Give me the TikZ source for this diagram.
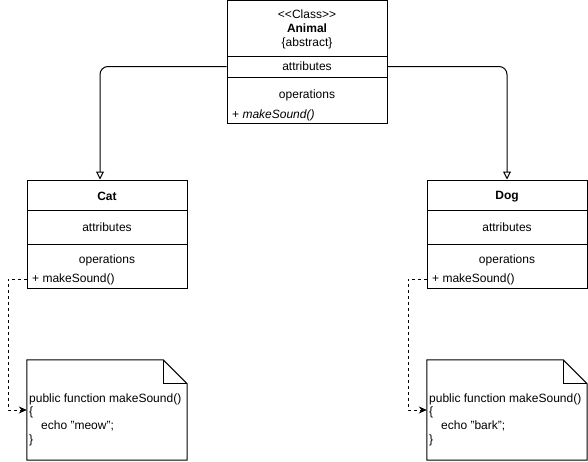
\documentclass[tikz,border=0pt]{standalone}
\usepackage{fontspec}
\setmainfont{Liberation Sans}
\usetikzlibrary{arrows.meta,positioning}
\newcommand{\umlfont}{\fontsize{12}{14}\selectfont}

\tikzset{
  compart/.style={draw,line width=1pt,minimum width=160pt,inner sep=0pt,align=center},
  optext/.style={anchor=west,inner xsep=5pt,inner ysep=2pt},
  notebox/.style={minimum width=160pt,minimum height=100pt,inner sep=0pt},
  inherit/.style={line width=1pt,rounded corners=8pt,-{Triangle[open,length=8pt,width=8pt]}},
  realize/.style={line width=1pt,dash pattern=on 3pt off 3pt,-{Stealth[length=8pt,width=7pt]}}
}

\begin{document}
\begin{tikzpicture}[x=1pt,y=-1pt,font=\umlfont]
  \useasboundingbox (0,0) rectangle (588,461);
  % abstract parent class
  \node[compart,minimum height=56pt] (animalhead) at (307,28) {};
  \node[align=center] (animalname) at (307,29.5)
        {<\kern0pt<Class>\kern0pt>\\\textbf{Animal}\\\{abstract\}};
  \node[compart,minimum height=21pt] (animalattr) at (307,66.5) {attributes};
  \node[compart,minimum height=46pt] (animalops) at (307,100) {};
  \node (animalopslbl) at (307,95.5) {operations};
  \node[optext] (animalop) at (227,115) {+ \textit{makeSound()}};
  % Cat
  \node[compart,minimum height=30pt] (cathead) at (107,195) {};
  \node (catname) at (107,196.5) {\textbf{Cat}};
  \node[compart,minimum height=34pt] (catattr) at (107,227) {attributes};
  \node[compart,minimum height=44pt] (catops) at (107,266) {};
  \node (catopslbl) at (107,260.5) {operations};
  \node[optext] (catop) at (27,279) {+ makeSound()};
  % Dog
  \node[compart,minimum height=30pt] (doghead) at (507,195) {};
  \node (dogname) at (507,196.5) {\textbf{Dog}};
  \node[compart,minimum height=34pt] (dogattr) at (507,227) {attributes};
  \node[compart,minimum height=44pt] (dogops) at (507,266) {};
  \node (dogopslbl) at (507,260.5) {operations};
  \node[optext] (dogop) at (427,279) {+ makeSound()};
  % implementation notes
  \node[notebox] (catnote) at (107,410) {};
  \node[notebox] (dognote) at (507,410) {};
  \foreach \n in {catnote,dognote} {
    \draw[line width=1pt] (\n.north west) -- ([xshift=-24pt]\n.north east)
      -- ([yshift=-24pt]\n.north east) -- (\n.south east) -- (\n.south west) -- cycle;
    \draw[line width=1pt] ([xshift=-24pt]\n.north east) |- ([yshift=-24pt]\n.north east);
  }
  \node[anchor=west,align=left,inner sep=0pt,font=\fontsize{12}{13.7}\selectfont] (catcode) at (29,419.5)
        {public function makeSound()\\\{\\\hspace*{12pt}echo "meow";\\\}};
  \node[anchor=west,align=left,inner sep=0pt,font=\fontsize{12}{13.7}\selectfont] (dogcode) at (429,419.5)
        {public function makeSound()\\\{\\\hspace*{12pt}echo "bark";\\\}};
  % generalisation
  \draw[inherit] (animalattr.west) -| ([xshift=-7pt]cathead.north);
  \draw[inherit] (animalattr.east) -| (doghead.north);
  % method bodies
  \draw[realize] (catop.west) -- ++(-19,0) |- (catnote.west);
  \draw[realize] (dogop.west) -- ++(-19,0) |- (dognote.west);
\end{tikzpicture}
\end{document}
